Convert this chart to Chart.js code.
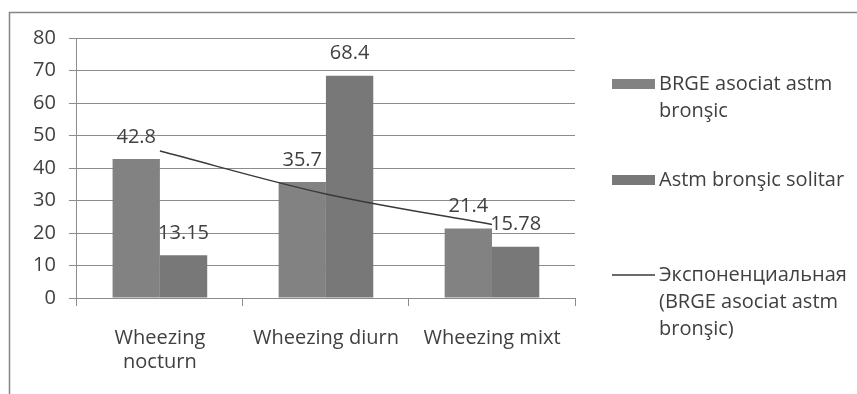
<!DOCTYPE html>
<html>
<head>
<meta charset="utf-8">
<title>Wheezing chart</title>
<script src="https://cdn.jsdelivr.net/npm/chart.js"></script>
<style>
    html, body { margin: 0; padding: 0; background: #fff; }
    #wrap { width: 857px; height: 394px; }
</style>
</head>
<body>
<div id="wrap"><canvas id="chart" width="857" height="394"></canvas></div>
<script>
    // data
    const categories = [['Wheezing', 'nocturn'], 'Wheezing diurn', 'Wheezing mixt'];
    const brgeValues = [42.8, 35.7, 21.4];
    const solitarValues = [13.15, 68.4, 15.78];
    // exponential trend line of the first series, as drawn
    const trendValues = [45.2, 32.0, 22.6];
    const yTicks = [0, 10, 20, 30, 40, 50, 60, 70, 80];

    const legendLines = [
        ['BRGE asociat astm', 'bronşic'],
        ['Astm bronşic solitar'],
        ['Экспоненциальная', '(BRGE asociat astm', 'bronşic)']
    ];

    const textColor = '#404040';
    const fontFamily = '"Open Sans", sans-serif';
    const fontSize = 20;

    // outer frame (only left and top edges are visible)
    const framePlugin = {
        id: 'frame',
        beforeDraw(chart) {
            const ctx = chart.ctx;
            ctx.save();
            ctx.fillStyle = '#fff';
            ctx.fillRect(0, 0, chart.width, chart.height);
            ctx.strokeStyle = '#858585';
            ctx.lineWidth = 1.5;
            ctx.beginPath();
            ctx.moveTo(9.5, chart.height + 2);
            ctx.lineTo(9.5, 12.5);
            ctx.lineTo(chart.width + 2, 12.5);
            ctx.stroke();
            ctx.restore();
        }
    };

    // value labels above the bars
    const valueLabels = {
        id: 'valueLabels',
        afterDatasetsDraw(chart) {
            const ctx = chart.ctx;
            ctx.save();
            ctx.font = fontSize + 'px ' + fontFamily;
            ctx.fillStyle = textColor;
            ctx.textAlign = 'center';
            ctx.textBaseline = 'middle';
            chart.data.datasets.forEach((ds, i) => {
                if (ds.type === 'line') return;
                chart.getDatasetMeta(i).data.forEach((bar, j) => {
                    ctx.fillText(String(ds.data[j]), bar.x, bar.y - 22);
                });
            });
            ctx.restore();
        }
    };

    // legend on the right with wrapped labels
    const sideLegend = {
        id: 'sideLegend',
        afterDraw(chart) {
            const ctx = chart.ctx;
            const x0 = 612, sw = 43, tx = 659, lh = 27;
            const tops = [84, 180, 275];
            ctx.save();
            ctx.font = fontSize + 'px ' + fontFamily;
            ctx.textBaseline = 'middle';
            ctx.textAlign = 'left';
            chart.data.datasets.forEach((ds, i) => {
                const y = tops[i];
                if (ds.type === 'line') {
                    ctx.strokeStyle = ds.borderColor;
                    ctx.lineWidth = ds.borderWidth;
                    ctx.beginPath();
                    ctx.moveTo(x0, y);
                    ctx.lineTo(x0 + sw, y);
                    ctx.stroke();
                } else {
                    ctx.fillStyle = ds.backgroundColor;
                    ctx.fillRect(x0, y - 5, sw, 10);
                }
                ctx.fillStyle = textColor;
                legendLines[i].forEach((line, k) => {
                    ctx.fillText(line, tx, y + k * lh);
                });
            });
            ctx.restore();
        }
    };

    new Chart(document.getElementById('chart'), {
        type: 'bar',
        data: {
            labels: categories,
            datasets: [
                {
                    label: legendLines[0].join(' '),
                    data: brgeValues,
                    backgroundColor: '#828282',
                    order: 1
                },
                {
                    label: legendLines[1].join(' '),
                    data: solitarValues,
                    backgroundColor: '#787878',
                    order: 1
                },
                {
                    type: 'line',
                    label: legendLines[2].join(' '),
                    data: trendValues,
                    borderColor: '#3a3a3a',
                    borderWidth: 1.5,
                    pointRadius: 0,
                    tension: 0.4,
                    cubicInterpolationMode: 'monotone',
                    fill: false,
                    order: 0
                }
            ]
        },
        options: {
            responsive: false,
            animation: false,
            layout: { padding: { left: 20, right: 282, top: 38, bottom: 0 } },
            plugins: {
                legend: { display: false },
                tooltip: { enabled: false }
            },
            datasets: {
                bar: { categoryPercentage: 0.57, barPercentage: 1.0 }
            },
            scales: {
                x: {
                    offset: true,
                    grid: {
                        offset: true,
                        drawOnChartArea: false,
                        drawTicks: true,
                        tickLength: 8,
                        color: '#8c8c8c'
                    },
                    border: { color: '#8c8c8c' },
                    ticks: {
                        color: textColor,
                        padding: 20,
                        maxRotation: 0,
                        font: { family: fontFamily, size: fontSize, lineHeight: 1.2 }
                    }
                },
                y: {
                    min: 0,
                    max: 80,
                    afterBuildTicks(axis) {
                        axis.ticks = yTicks.map(v => ({ value: v }));
                    },
                    grid: {
                        color: '#8c8c8c',
                        tickLength: 8
                    },
                    border: { color: '#8c8c8c' },
                    ticks: {
                        color: textColor,
                        padding: 13,
                        font: { family: fontFamily, size: fontSize }
                    }
                }
            }
        },
        plugins: [framePlugin, valueLabels, sideLegend]
    });
</script>
</body>
</html>
